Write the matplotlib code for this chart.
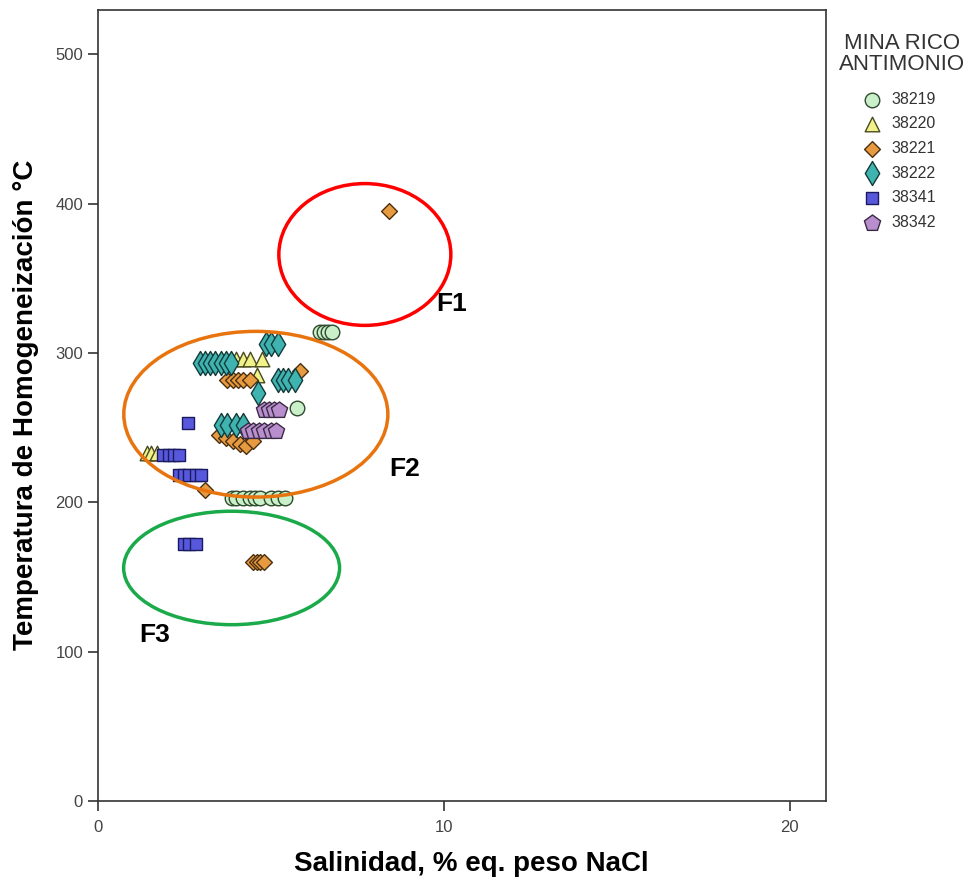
import matplotlib.pyplot as plt
from matplotlib.patches import Ellipse

plt.rcParams['font.family'] = ['Liberation Sans', 'DejaVu Sans']

# muestras de inclusiones fluidas (salinidad, Th)
sal_38219 = [6.42, 6.53, 6.65, 6.76, 3.87, 4.0, 4.2, 4.4, 4.55, 4.7, 5.0, 5.2, 5.4, 5.75]
th_38219 = [314, 314, 314, 314, 203, 203, 203, 203, 203, 203, 203, 203, 203, 263]

sal_38220 = [1.42, 1.55, 1.7, 4.0, 4.2, 4.4, 4.75, 4.6]
th_38220 = [233, 233, 233, 296, 296, 296, 296, 285]

sal_38221 = [8.41, 5.85, 3.75, 3.9, 4.05, 4.2, 4.4, 3.5, 3.7, 3.9, 4.1, 4.3, 4.5, 3.1, 4.5, 4.6, 4.7, 4.8]
th_38221 = [395, 288, 282, 282, 282, 282, 282, 245, 243, 241, 239, 238, 241, 208, 160, 160, 160, 160]

sal_38222 = [2.95, 3.1, 3.25, 3.4, 3.55, 3.7, 3.85, 4.85, 5.0, 5.2, 5.2, 5.35, 5.5, 5.7, 4.62, 3.55, 3.75, 4.0, 4.2]
th_38222 = [293, 293, 293, 293, 293, 293, 293, 306, 306, 306, 282, 282, 282, 282, 273, 252, 252, 252, 252]

sal_38341 = [2.6, 1.9, 2.05, 2.2, 2.35, 2.35, 2.5, 2.65, 2.85, 3.0, 2.5, 2.65, 2.85]
th_38341 = [253, 232, 232, 232, 232, 218, 218, 218, 218, 218, 172, 172, 172]

sal_38342 = [4.8, 4.95, 5.1, 5.25, 4.35, 4.5, 4.65, 4.8, 5.0, 5.15]
th_38342 = [262, 262, 262, 262, 248, 248, 248, 248, 248, 248]

series = [
    ('38219', sal_38219, th_38219, 'o', '#c9f0c9', '#2f4a2f', 110),
    ('38220', sal_38220, th_38220, '^', '#f2f28a', '#4a4a20', 110),
    ('38221', sal_38221, th_38221, 'D', '#e89a40', '#4a3010', 65),
    ('38222', sal_38222, th_38222, 'd', '#3fb3b0', '#123a3a', 150),
    ('38341', sal_38341, th_38341, 's', '#5858dc', '#1a1a60', 75),
    ('38342', sal_38342, th_38342, 'p', '#b88fcc', '#3a2a45', 150),
]

# zonas F1-F3 (centro x, centro y, ancho, alto)
zonas = [
    ('F1', 7.72, 366, 4.97, 95, 'red', 10.23, 333),
    ('F2', 4.57, 259, 7.63, 111, '#e8740f', 8.87, 222),
    ('F3', 3.87, 156, 6.24, 76, '#1aaa4a', 1.65, 111),
]

fig = plt.figure(figsize=(9.67, 8.81), dpi=100)
ax = fig.add_axes([0.101, 0.091, 0.753, 0.898])

for name, x, y, m, fc, ec, s in series:
    ax.scatter(x, y, marker=m, s=s, facecolor=fc, edgecolor=ec, linewidth=1, label=name, zorder=3)

for lab, cx, cy, w, h, col, tx, ty in zonas:
    ax.add_patch(Ellipse((cx, cy), w, h, fill=False, edgecolor=col, linewidth=2.5, zorder=4))
    ax.text(tx, ty, lab, fontsize=19, fontweight='bold', ha='center', va='center', zorder=5)

ax.set_xlim(0, 21.04)
ax.set_ylim(0, 530)
ax.set_xticks([0, 10, 20])
ax.set_yticks([0, 100, 200, 300, 400, 500])
ax.tick_params(labelsize=12, labelcolor='#444444', color='#333333', length=7, width=1.2)
ax.tick_params(axis='x', pad=7)
for sp in ax.spines.values():
    sp.set_color('#333333')
    sp.set_linewidth(1.2)

ax.set_xlabel('Salinidad, % eq. peso NaCl', fontsize=20, fontweight='bold')
ax.xaxis.set_label_coords(0.513, -0.064)
ax.set_ylabel('Temperatura de Homogeneización °C', fontsize=20, fontweight='bold', labelpad=12)

fig.text(0.933, 0.963, 'MINA RICO\nANTIMONIO', fontsize=16, color='#333333',
         ha='center', va='top', linespacing=1.0)
leg = fig.legend(loc='upper left', bbox_to_anchor=(0.879, 0.903), frameon=False,
                 fontsize=11.5, handletextpad=0.2, labelspacing=0.6, borderaxespad=0)
for t in leg.get_texts():
    t.set_color('#333333')

fig.savefig('out.png', dpi=100)
